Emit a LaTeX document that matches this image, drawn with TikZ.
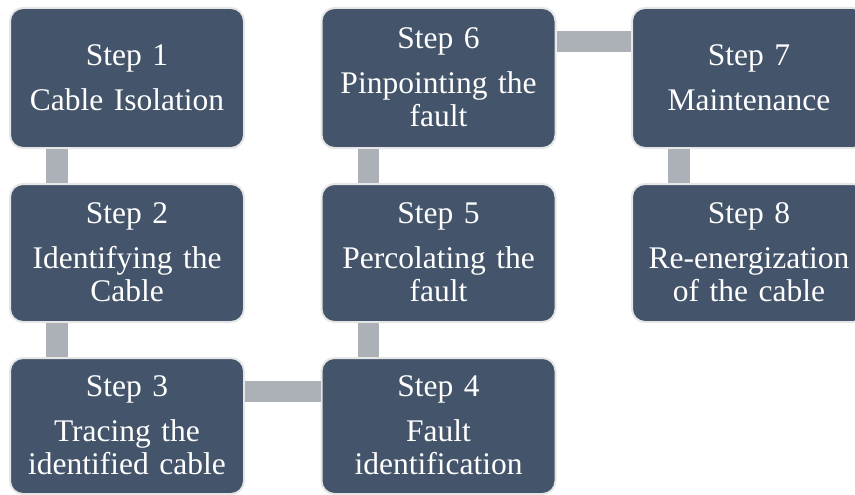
\documentclass[tikz,border=0pt]{standalone}
\usepackage{fontspec}
\setmainfont{Liberation Serif}
\usetikzlibrary{calc}
\definecolor{boxfill}{RGB}{68,84,106}
\definecolor{boxline}{RGB}{230,230,230}
\definecolor{linkgray}{RGB}{172,176,183}
\newcommand\topline{\rule{0pt}{27pt}}
\newcommand\botline{\rule[-7.5pt]{0pt}{7.5pt}}
\tikzset{
  stepbox/.style={draw=boxline, line width=2pt, fill=boxfill, rounded corners=13pt,
    minimum width=234pt, text width=232pt, align=center, inner sep=0pt,
    text=white, font=\fontsize{31.5}{33}\selectfont},
  link/.style={draw=linkgray, line width=21.5pt}
}
\begin{document}
\begin{tikzpicture}[x=1pt,y=-1pt]
\useasboundingbox (0,0) rectangle (855,495);
\clip (0,0) rectangle (855,495);
\node[stepbox, minimum height=140pt] (s1) at (127,78) {\topline Step 1\\[12pt]Cable Isolation\botline};
\node[stepbox, minimum height=138pt] (s2) at (127,253) {\topline Step 2\\[12pt]Identifying the\\Cable\botline};
\node[stepbox, minimum height=136pt] (s3) at (127,426) {\topline Step 3\\[12pt]Tracing the\\identified cable\botline};
\node[stepbox, minimum height=136pt] (s4) at (438.5,426) {\topline Step 4\\[12pt]Fault\\identification\botline};
\node[stepbox, minimum height=138pt] (s5) at (438.5,253) {\topline Step 5\\[12pt]Percolating the\\fault\botline};
\node[stepbox, minimum height=140pt] (s6) at (438.5,78) {\topline Step 6\\[12pt]Pinpointing the\\fault\botline};
\node[stepbox, minimum height=140pt] (s7) at (749,78) {\topline Step 7\\[12pt]Maintenance\botline};
\node[stepbox, minimum height=138pt] (s8) at (749,253) {\topline Step 8\\[12pt]Re-energization\\of the cable\botline};
\draw[link] ($(s1.south west)+(48,0)$) -- ($(s2.north west)+(48,0)$);
\draw[link] ($(s2.south west)+(48,0)$) -- ($(s3.north west)+(48,0)$);
\draw[link] ($(s3.north east)+(0,34.5)$) -- ($(s4.north west)+(0,34.5)$);
\draw[link] ($(s4.north west)+(48,0)$) -- ($(s5.south west)+(48,0)$);
\draw[link] ($(s5.north west)+(48,0)$) -- ($(s6.south west)+(48,0)$);
\draw[link] ($(s6.north east)+(0,34.5)$) -- ($(s7.north west)+(0,34.5)$);
\draw[link] ($(s7.south west)+(48,0)$) -- ($(s8.north west)+(48,0)$);
\end{tikzpicture}
\end{document}
